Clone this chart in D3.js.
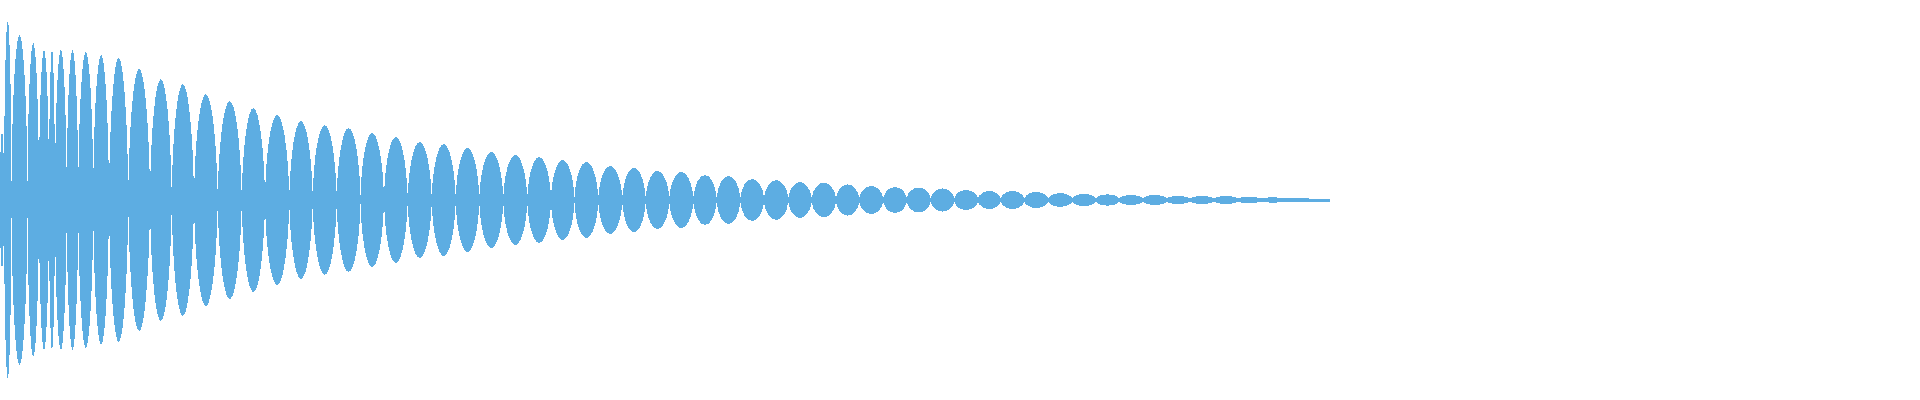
<!DOCTYPE html>
<html>
<head>
<meta charset="utf-8">
<script src="https://cdn.jsdelivr.net/npm/d3@7"></script>
<style>
  body { margin: 0; background: #fff; }
  #wave { width: 1920px; height: 400px; }
</style>
</head>
<body>
<div id="wave"></div>
<script>
// zero crossings of the envelope (column units, 1920 columns wide)
const crossings = [
  0, 4, 11.5, 27.5, 39, 49, 55, 66.7, 78.3, 93.3, 109, 128.3, 150, 171.7,
  194, 217.7, 241.7, 265, 289.3, 312.7, 336.7, 360.5, 384, 407.7, 431.7,
  455.7, 479.3, 503.3, 527.3, 551, 574.5, 598.3, 622.3, 645.7, 669.3, 693.3,
  716.7, 740.3, 764, 788.3, 811.7, 836, 859.3, 883.3, 906.7, 930.7, 954.3,
  978, 1000.7, 1024.3, 1048.3, 1072.3, 1095.7, 1119.3, 1142.7, 1166.7, 1190,
  1214, 1237.3, 1261, 1285, 1309.3, 1330
];

// peak amplitude of each lobe (between two crossings), -1..1 scale
const peaks = [
  0.34, 0.895, 0.825, 0.785, 0.75, 0.75, 0.75, 0.75, 0.74, 0.725, 0.71, 0.655, 0.605, 0.58,
  0.53, 0.495, 0.46, 0.425, 0.395, 0.375, 0.36, 0.335, 0.315, 0.29, 0.28, 0.26,
  0.24, 0.225, 0.215, 0.2, 0.19, 0.17, 0.16, 0.145, 0.14, 0.125, 0.12, 0.105,
  0.1, 0.09, 0.087, 0.078, 0.07, 0.065, 0.062, 0.058, 0.05, 0.045, 0.045, 0.04,
  0.034, 0.03, 0.028, 0.025, 0.025, 0.02, 0.02, 0.02, 0.015, 0.013, 0.01, 0.005
];

// thickness of the wave where lobes meet
const neckBreaks = [50, 100, 160, 190, 370, 565, 775, 970, 1310];
const neckValues = [0.09, 0.075, 0.038, 0.028, 0.022, 0.015, 0.012, 0.01, 0.0075, 0.004];

const width = 1920;
const height = 400;
const color = "#5dade2";

const x = d3.scaleLinear().domain([0, 1920]).range([0, width]);
const y = d3.scaleLinear().domain([-1, 1]).range([height, 0]);
const neck = d3.scaleThreshold().domain(neckBreaks).range(neckValues);

const lobes = peaks.map((p, i) => ({
  start: crossings[i],
  end: crossings[i + 1],
  peak: p
}));

// lens shape: steep near the joints, rounded at the crest
function lens(d) {
  const xa = x(d.start);
  const xb = x(d.end);
  const xm = (xa + xb) / 2;
  const hw = (xb - xa) / 2;
  const path = d3.path();
  const half = (sign, first) => {
    const ya = y(sign * neck(d.start));
    const yb = y(sign * neck(d.end));
    const yp = y(sign * d.peak);
    if (first) path.moveTo(xa, ya);
    path.bezierCurveTo(xa + 0.1 * hw, ya + 0.6 * (yp - ya), xm - 0.45 * hw, yp, xm, yp);
    path.bezierCurveTo(xm + 0.45 * hw, yp, xb - 0.1 * hw, yb + 0.6 * (yp - yb), xb, yb);
  };
  half(1, true);
  // lower half, walked back from right to left
  const ya = y(-neck(d.start));
  const yb = y(-neck(d.end));
  const yp = y(-d.peak);
  path.lineTo(xb, yb);
  path.bezierCurveTo(xb - 0.1 * hw, yb + 0.6 * (yp - yb), xm + 0.45 * hw, yp, xm, yp);
  path.bezierCurveTo(xm - 0.45 * hw, yp, xa + 0.1 * hw, ya + 0.6 * (yp - ya), xa, ya);
  path.closePath();
  return path.toString();
}

const svg = d3
  .select("#wave")
  .append("svg")
  .attr("width", width)
  .attr("height", height)
  .attr("shape-rendering", "crispEdges");

const g = svg.append("g").attr("fill", color);

// thin band running through the lobe joints
const band = d3
  .area()
  .x(d => x(d))
  .y0(d => y(-neck(d)))
  .y1(d => y(neck(d)))
  .curve(d3.curveStepAfter);

g.append("path")
  .datum(crossings)
  .attr("d", band);

g.selectAll("path.lobe")
  .data(lobes)
  .join("path")
  .attr("class", "lobe")
  .attr("d", lens);
</script>
</body>
</html>
